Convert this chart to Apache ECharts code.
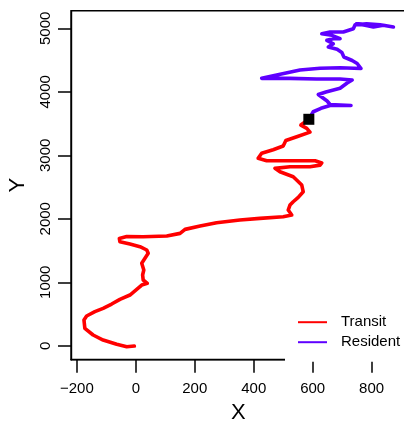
<!DOCTYPE html>
<html>
<head>
<meta charset="utf-8">
<style>
  html, body { margin: 0; padding: 0; background: #fff; overflow: hidden; }
  #chart { width: 404px; height: 424px; }
</style>
<script src="https://cdn.jsdelivr.net/npm/echarts@6/dist/echarts.min.js"></script>
</head>
<body>
<div id="chart"></div>
<script>
// ---- data ----
var transitX = [-5, -31, -65, -111, -145, -173, -176, -167, -139, -111, -82, -54, -20, 3, 20, 39, 25, 23, 27, 20, 31, 42, 37, 14, -20, -54, -56, -31, 25, 105, 150, 167, 218, 274, 353, 421, 500, 529, 517, 523, 534, 551, 568, 563, 534, 489, 472, 523, 591, 625, 631, 608, 523, 444, 415, 427, 466, 500, 509, 546, 591, 580, 560, 587];
var transitY = [-5, -16, 22, 90, 169, 274, 405, 468, 536, 589, 657, 731, 799, 888, 956, 983, 1035, 1114, 1193, 1298, 1377, 1456, 1508, 1560, 1602, 1638, 1691, 1720, 1717, 1728, 1770, 1833, 1885, 1937, 1980, 2006, 2031, 2058, 2137, 2216, 2268, 2337, 2425, 2531, 2662, 2741, 2794, 2820, 2820, 2845, 2880, 2914, 2914, 2914, 2952, 3031, 3088, 3146, 3232, 3292, 3365, 3424, 3476, 3567];
var residentX = [587, 602, 628, 659, 730, 659, 649, 619, 645, 693, 717, 734, 693, 614, 523, 427, 478, 557, 625, 693, 764, 751, 734, 706, 699, 683, 653, 670, 648, 670, 693, 665, 631, 659, 704, 738, 744, 783, 829, 874, 840, 806, 778, 749];
var residentY = [3567, 3686, 3740, 3784, 3784, 3800, 3855, 3957, 3997, 4055, 4138, 4186, 4201, 4201, 4212, 4212, 4264, 4343, 4370, 4379, 4367, 4446, 4493, 4548, 4619, 4669, 4705, 4757, 4811, 4836, 4836, 4890, 4915, 4942, 4942, 4994, 5057, 5072, 5057, 5021, 5047, 5021, 5047, 5072];
var markerX = [587];
var markerY = [3567];
var xTicks = [-200, 0, 200, 400, 600, 800];
var yTicks = [0, 1000, 2000, 3000, 4000, 5000];
var seriesNames = ['Transit', 'Resident'];

function zip(a, b) { return a.map(function (v, i) { return [v, b[i]]; }); }
function fmt(v) { return String(v).replace('-', '\u2212'); }

var FONT = 'Liberation Sans, Arial, Helvetica, sans-serif';
var chart = echarts.init(document.getElementById('chart'), null, { renderer: 'canvas' });

chart.setOption({
  animation: false,
  backgroundColor: '#ffffff',
  textStyle: { fontFamily: FONT },
  grid: {
    left: 71, top: 10.8, bottom: 64.3, right: -1.8,
    show: true, borderColor: '#000', borderWidth: 1.4, backgroundColor: 'transparent',
    containLabel: false,
    outerBoundsMode: 'none'
  },
  xAxis: {
    type: 'value', min: -220, max: 916,
    name: 'X', nameLocation: 'middle', nameGap: 41,
    nameTextStyle: { fontSize: 22, color: '#000', fontFamily: FONT },
    axisLine: { show: true, onZero: false, lineStyle: { color: '#000', width: 1.4 } },
    splitLine: { show: false },
    axisTick: { show: true, inside: false, length: 13, customValues: xTicks, lineStyle: { color: '#000', width: 1.5 } },
    axisLabel: { show: true, customValues: xTicks, margin: 22, fontSize: 15, color: '#000', fontFamily: FONT, formatter: fmt }
  },
  yAxis: {
    type: 'value', min: -220, max: 5276,
    name: 'Y', nameLocation: 'middle', nameGap: 42, nameRotate: 90,
    nameTextStyle: { fontSize: 22, color: '#000', fontFamily: FONT },
    axisLine: { show: true, onZero: false, lineStyle: { color: '#000', width: 1.4 } },
    splitLine: { show: false },
    axisTick: { show: true, inside: false, length: 13, customValues: yTicks, lineStyle: { color: '#000', width: 1.5 } },
    axisLabel: { show: true, customValues: yTicks, rotate: 90, margin: 18, fontSize: 15, color: '#000', fontFamily: FONT, formatter: fmt }
  },
  legend: {
    orient: 'vertical', left: 285, top: 304.7,
    padding: [10, 10, 12, 13],
    backgroundColor: '#ffffff',
    itemWidth: 29, itemHeight: 14, itemGap: 5,
    data: seriesNames,
    icon: 'path://M0,6 L29,6 L29,8 L0,8 Z',
    textStyle: { fontSize: 15, color: '#000', fontFamily: FONT, padding: [0, 0, 0, 9] }
  },
  series: [
    {
      name: seriesNames[0], type: 'line', data: zip(transitX, transitY),
      symbol: 'none', smooth: false, color: '#ff0000',
      lineStyle: { color: '#ff0000', width: 3.6, join: 'round', cap: 'round' },
      z: 2
    },
    {
      name: seriesNames[1], type: 'line', data: zip(residentX, residentY),
      symbol: 'none', smooth: false, color: '#5f00ff',
      lineStyle: { color: '#5f00ff', width: 3.6, join: 'round', cap: 'round' },
      z: 2
    },
    {
      name: 'marker', type: 'scatter', data: zip(markerX, markerY),
      symbol: 'rect', symbolSize: 11, itemStyle: { color: '#000', opacity: 1 }, z: 3
    }
  ]
});
</script>
</body>
</html>
